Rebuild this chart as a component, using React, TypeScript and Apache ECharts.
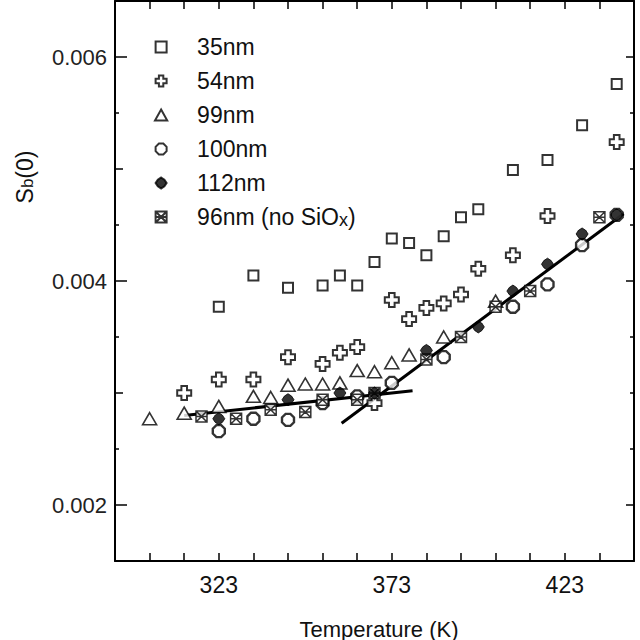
import React, { useEffect, useRef } from "react";
import * as echarts from "echarts";

// ---- data ----
const t35 = [323, 333, 343, 353, 358, 363, 368, 373, 378, 383, 388, 393, 398, 408, 418, 428, 438];
const s35 = [0.00377, 0.00405, 0.00394, 0.00396, 0.00405, 0.00396, 0.00417, 0.00438, 0.00434, 0.00423, 0.0044, 0.00457, 0.00464, 0.00499, 0.00508, 0.00539, 0.00576];

const t54 = [313, 323, 333, 343, 353, 358, 363, 368, 373, 378, 383, 388, 393, 398, 408, 418, 438];
const s54 = [0.003, 0.00312, 0.00312, 0.00332, 0.00326, 0.00336, 0.00341, 0.00291, 0.00383, 0.00366, 0.00376, 0.0038, 0.00388, 0.00411, 0.00423, 0.00458, 0.00524];

const t99 = [303, 313, 323, 333, 338, 343, 348, 353, 358, 363, 368, 373, 378, 388, 403];
const s99 = [0.00277, 0.00282, 0.00288, 0.00297, 0.00296, 0.00307, 0.00308, 0.00308, 0.00309, 0.0032, 0.00319, 0.00327, 0.00334, 0.0035, 0.00382];

const t100 = [323, 333, 343, 353, 363, 373, 388, 408, 418, 428, 438];
const s100 = [0.00266, 0.00277, 0.00276, 0.00291, 0.00297, 0.00309, 0.00332, 0.00377, 0.00397, 0.00432, 0.00459];

const t112 = [323, 343, 358, 368, 383, 398, 408, 418, 428, 438];
const s112 = [0.00277, 0.00294, 0.003, 0.003, 0.00338, 0.00359, 0.00391, 0.00415, 0.00442, 0.00459];

const t96 = [318, 328, 338, 348, 353, 363, 368, 383, 393, 403, 413, 433];
const s96 = [0.00279, 0.00277, 0.00285, 0.00283, 0.00294, 0.00294, 0.003, 0.0033, 0.0035, 0.00377, 0.00391, 0.00457];

const fitLow = [[313, 0.0028], [379, 0.00302]];
const fitHigh = [[358.5, 0.00273], [440, 0.0046]];

const seriesNames = ["35nm", "54nm", "99nm", "100nm", "112nm", "96nm (no SiOx)"];

const xTickValues = [303, 313, 323, 333, 343, 353, 363, 373, 383, 393, 403, 413, 423, 433];
const xLabelValues = [323, 373, 423];
const yMajor = [0.002, 0.004, 0.006];
const yMid = [0.003, 0.005];
const yMinor = [0.0025, 0.0035, 0.0045, 0.0055];

const X_MIN = 293;
const X_MAX = 443;
const Y_MIN = 0.0015;
const Y_MAX = 0.0065;

const FONT = "'Liberation Sans', Arial, sans-serif";

const SYM_SQUARE = "path://M0,0L10,0L10,10L0,10Z";
const SYM_CROSS = "path://M3,0L7,0L7,3L10,3L10,7L7,7L7,10L3,10L3,7L0,7L0,3L3,3Z";
const SYM_TRI = "path://M5,0L10,9L0,9Z";
const SYM_OCT = "path://M3,0L7,0L10,3L10,7L7,10L3,10L0,7L0,3Z";
const SYM_DIAM = "path://M5,0L8,2L10,5L8,8L5,10L2,8L0,5L2,2Z";
const SYM_HATCH = "path://M0,0L10,0L10,10L0,10Z M0,0L10,10 M10,0L0,10 M0,5L10,5";

const zip = (a: number[], b: number[]) => a.map((v, i) => [v, b[i]]);

export default function App() {
  const ref = useRef<HTMLDivElement>(null);
  useEffect(() => {
    if (!ref.current) return;
    const chart = echarts.init(ref.current, null, { renderer: "svg" });

    const hollow = (w = 2) => ({ color: "#fff", borderColor: "#000", borderWidth: w });

    const scatter = (
      name: string,
      data: number[][],
      symbol: string,
      size: number | number[],
      itemStyle: any,
      z = 3
    ) => ({
      name,
      type: "scatter",
      data,
      symbol,
      symbolSize: size,
      itemStyle,
      z,
      xAxisIndex: 0,
      yAxisIndex: 0,
      emphasis: { disabled: true },
    });

    const hiddenY = (pos: string, vals: number[], len: number) => ({
      type: "value",
      position: pos,
      min: Y_MIN,
      max: Y_MAX,
      axisLine: { show: false },
      axisTick: { show: true, inside: true, length: len, customValues: vals, lineStyle: { color: "#000", width: 1.5 } },
      axisLabel: { show: false },
      splitLine: { show: false },
    });

    chart.setOption({
      animation: false,
      backgroundColor: "#fff",
      grid: { left: 115, right: 6, top: 1, bottom: 79, outerBoundsMode: "none" },
      xAxis: [
        {
          type: "value",
          position: "bottom",
          min: X_MIN,
          max: X_MAX,
          axisLine: { show: true, onZero: false, lineStyle: { color: "#000", width: 2 } },
          axisTick: { show: true, inside: true, length: 8, customValues: xTickValues, lineStyle: { color: "#000", width: 1.5 } },
          axisLabel: {
            show: true,
            customValues: xLabelValues,
            fontSize: 23,
            color: "#111",
            fontFamily: FONT,
            margin: 12,
          },
          splitLine: { show: false },
        },
        {
          type: "value",
          position: "top",
          min: X_MIN,
          max: X_MAX,
          axisLine: { show: true, onZero: false, lineStyle: { color: "#000", width: 2 } },
          axisTick: { show: true, inside: true, length: 8, customValues: xTickValues, lineStyle: { color: "#000", width: 1.5 } },
          axisLabel: { show: false },
          splitLine: { show: false },
        },
      ],
      yAxis: [
        {
          type: "value",
          position: "left",
          min: Y_MIN,
          max: Y_MAX,
          axisLine: { show: true, onZero: false, lineStyle: { color: "#000", width: 2 } },
          axisTick: { show: true, inside: true, length: 12, customValues: yMajor, lineStyle: { color: "#000", width: 1.5 } },
          axisLabel: {
            show: true,
            customValues: yMajor,
            formatter: (v: number) => v.toFixed(3),
            fontSize: 22,
            color: "#222",
            fontFamily: FONT,
            margin: 8,
          },
          splitLine: { show: false },
        },
        hiddenY("left", yMid, 8),
        hiddenY("left", yMinor, 4),
        {
          type: "value",
          position: "right",
          min: Y_MIN,
          max: Y_MAX,
          axisLine: { show: true, onZero: false, lineStyle: { color: "#000", width: 2 } },
          axisTick: { show: true, inside: true, length: 8, customValues: yMajor, lineStyle: { color: "#000", width: 1.5 } },
          axisLabel: { show: false },
          splitLine: { show: false },
        },
        hiddenY("right", [...yMid, ...yMinor], 4),
      ],
      legend: {
        orient: "vertical",
        left: 154,
        top: 35,
        padding: 0,
        itemWidth: 62,
        itemHeight: 11,
        itemGap: 10,
        selectedMode: false,
        data: seriesNames,
        formatter: (name: string) => (name === "96nm (no SiOx)" ? "96nm (no SiO{sub|x})" : name),
        textStyle: {
          fontSize: 23,
          lineHeight: 24,
          color: "#111",
          fontFamily: FONT,
          rich: {
            sub: { fontSize: 18, lineHeight: 14, verticalAlign: "bottom", fontFamily: FONT, color: "#111" },
          },
        },
      },
      graphic: [
        {
          type: "text",
          x: 23,
          y: 177,
          rotation: Math.PI / 2,
          style: {
            text: "{s|S}{b|b}{s|(0)}",
            align: "center",
            verticalAlign: "middle",
            fill: "#111",
            rich: {
              s: { fontSize: 23, lineHeight: 26, verticalAlign: "bottom", fontFamily: FONT, fill: "#111" },
              b: { fontSize: 17, lineHeight: 16, verticalAlign: "bottom", fontFamily: FONT, fill: "#111" },
            },
          },
        },
        {
          type: "text",
          x: 379,
          y: 629,
          style: {
            text: "Temperature (K)",
            align: "center",
            verticalAlign: "middle",
            fontSize: 22,
            fontFamily: FONT,
            fill: "#111",
          },
        },
      ],
      series: [
        {
          name: "fitLow",
          type: "line",
          data: fitLow,
          symbol: "none",
          lineStyle: { color: "#000", width: 3 },
          z: 1,
          silent: true,
        },
        {
          name: "fitHigh",
          type: "line",
          data: fitHigh,
          symbol: "none",
          lineStyle: { color: "#000", width: 3 },
          z: 1,
          silent: true,
        },
        scatter("35nm", zip(t35, s35), SYM_SQUARE, 10, hollow(2)),
        scatter("54nm", zip(t54, s54), SYM_CROSS, 14, hollow(2)),
        scatter("99nm", zip(t99, s99), SYM_TRI, [14, 12], hollow(1.6)),
        scatter("100nm", zip(t100, s100), SYM_OCT, 12, hollow(2.4)),
        scatter("96nm (no SiOx)", zip(t96, s96), SYM_HATCH, 11, hollow(1.5)),
        scatter("112nm", zip(t112, s112), SYM_DIAM, 12, { color: "#000", borderColor: "#000", borderWidth: 1 }, 4),
      ],
    });

    return () => chart.dispose();
  }, []);

  return <div ref={ref} style={{ position: "fixed", left: 0, top: 0, width: 640, height: 640 }} />;
}
